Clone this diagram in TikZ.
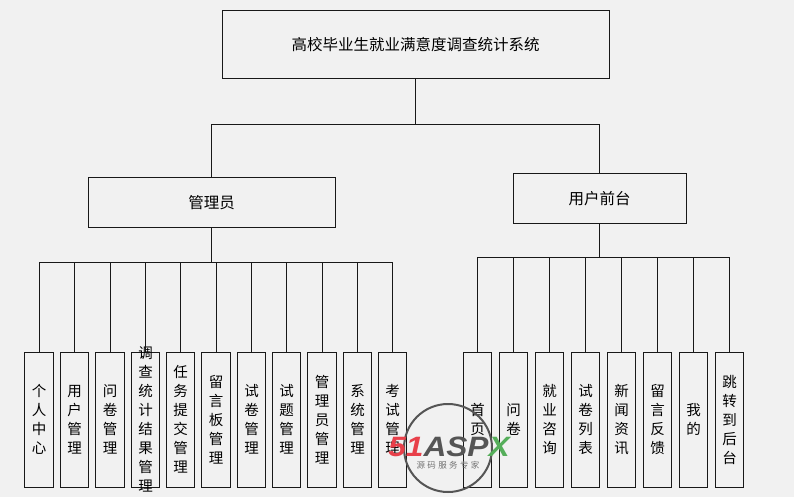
\documentclass[tikz,border=0pt]{standalone}
\usepackage{fontspec}
\setmainfont{Noto Sans CJK SC}
\newfontfamily\wmfont{Liberation Sans}
\definecolor{bgc}{HTML}{F1F1F1}
\definecolor{linec}{HTML}{181818}
\definecolor{wmred}{HTML}{E8404A}
\definecolor{wmgrey}{HTML}{555555}
\definecolor{wmgreen}{HTML}{55AE5A}
\tikzset{
  x=1pt,y=-1pt,
  box/.style={draw=linec,line width=1pt,inner sep=0pt,outer sep=0pt,align=center,text=black},
  wide/.style={box,font=\fontsize{15.5}{19}\selectfont},
  tall/.style={box,minimum width=28.5pt,minimum height=135pt,text width=28.5pt,inner ysep=-12pt,font=\fontsize{14.5}{19}\selectfont},
  link/.style={draw=linec,line width=1pt},
}
\begin{document}
\begin{tikzpicture}
\path[fill=bgc] (0,0) rectangle (794,497);
\useasboundingbox (0,0) rectangle (794,497);
% upper boxes
\node[wide,minimum width=387pt,minimum height=68pt] (root) at (415.5,44.5) {高校毕业生就业满意度调查统计系统};
\node[wide,minimum width=247pt,minimum height=50pt] (admin) at (211.5,202.5) {管理员};
\node[wide,minimum width=173pt,minimum height=50pt] (user) at (599.5,198.5) {用户前台};
% administrator children
\node[tall] (a1) at (39,419.5) {个\\人\\中\\心};
\node[tall] (a2) at (74.5,419.5) {用\\户\\管\\理};
\node[tall] (a3) at (110,419.5) {问\\卷\\管\\理};
\node[tall] (a4) at (145.5,419.5) {调\\查\\统\\计\\结\\果\\管\\理};
\node[tall] (a5) at (180.5,419.5) {任\\务\\提\\交\\管\\理};
\node[tall] (a6) at (216,419.5) {留\\言\\板\\管\\理};
\node[tall] (a7) at (251.5,419.5) {试\\卷\\管\\理};
\node[tall] (a8) at (286.5,419.5) {试\\题\\管\\理};
\node[tall] (a9) at (322,419.5) {管\\理\\员\\管\\理};
\node[tall] (a10) at (357.5,419.5) {系\\统\\管\\理};
\node[tall] (a11) at (392.5,419.5) {考\\试\\管\\理};
% front-end children
\node[tall] (u1) at (477.5,419.5) {首\\页};
\node[tall] (u2) at (513.5,419.5) {问\\卷};
\node[tall] (u3) at (549.5,419.5) {就\\业\\咨\\询};
\node[tall] (u4) at (585.5,419.5) {试\\卷\\列\\表};
\node[tall] (u5) at (621.5,419.5) {新\\闻\\资\\讯};
\node[tall] (u6) at (657.5,419.5) {留\\言\\反\\馈};
\node[tall] (u7) at (693.5,419.5) {我\\的};
\node[tall] (u8) at (729.5,419.5) {跳\\转\\到\\后\\台};
% junctions
\coordinate (busR) at (415.5,124.5);
\coordinate (busA) at (211.5,262.5);
\coordinate (busU) at (599.5,257.5);
% connectors
\draw[link] (root.south) -- (busR);
\draw[link] (busR) -| (admin.north);
\draw[link] (busR) -| (user.north);
\draw[link] (admin.south) -- (busA);
\draw[link] (user.south) -- (busU);
\foreach \n in {a1,a2,a3,a4,a5,a6,a7,a8,a9,a10,a11}
  \draw[link] (busA) -| (\n.north);
\foreach \n in {u1,u2,u3,u4,u5,u6,u7,u8}
  \draw[link] (busU) -| (\n.north);
% watermark
\node[circle,draw=wmgrey,line width=2pt,minimum size=88pt,inner sep=0pt] (wm) at (448,448) {};
\node[inner sep=0pt,xscale=1.13,font=\fontsize{28}{28}\wmfont\bfseries\itshape] (wmt) at (449,447)
  {\textcolor{wmred}{51}\textcolor{wmgrey}{ASP}\textcolor{wmgreen}{X}};
\node[inner sep=0pt,text=black!55,font=\fontsize{8.5}{8.5}\selectfont\addfontfeature{LetterSpace=28}] (wms) at (448,465) {源码服务专家};
\end{tikzpicture}
\end{document}
